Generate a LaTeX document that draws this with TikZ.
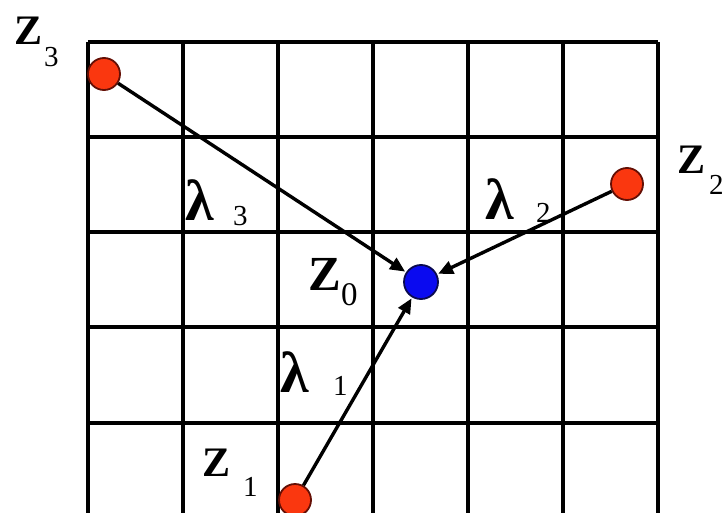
\documentclass[tikz,border=0pt]{standalone}
\usepackage{fontspec}
\setmainfont{Liberation Serif}
\usetikzlibrary{arrows.meta}
\definecolor{dotred}{RGB}{250,55,15}
\definecolor{dotblue}{RGB}{10,10,240}
\definecolor{rimred}{RGB}{100,15,5}
\definecolor{rimblue}{RGB}{10,10,80}
\tikzset{
  gridline/.style={line width=3.2pt, black},
  reddot/.style={circle, fill=dotred, draw=rimred, line width=1.8pt, minimum size=32pt, inner sep=0pt},
  bluedot/.style={circle, fill=dotblue, draw=rimblue, line width=1.8pt, minimum size=34pt, inner sep=0pt},
  link/.style={line width=3.4pt, -{Triangle[length=15pt,width=13pt]}, shorten >=1pt},
  big/.style={anchor=base west, inner sep=0pt, font=\fontsize{42}{42}\selectfont\bfseries},
  bigz/.style={anchor=base west, inner sep=0pt, font=\fontsize{49}{49}\selectfont\bfseries},
  lam/.style={anchor=base west, inner sep=0pt, font=\fontsize{58}{58}\selectfont\bfseries},
  sub/.style={anchor=base west, inner sep=0pt, font=\fontsize{29}{29}\selectfont},
  subz/.style={anchor=base west, inner sep=0pt, font=\fontsize{33}{33}\selectfont},
}
\begin{document}
\begin{tikzpicture}[x=1pt, y=-1pt]
\useasboundingbox (0,0) rectangle (727,513);
\fill[white] (0,0) rectangle (727,513);
\begin{scope}
\clip (0,0) rectangle (727,513);
% grid
\foreach \x in {88,183,278,373,468,563,658}
  \draw[gridline] (\x,42) -- (\x,520);
\foreach \y in {42,137,232,327,423}
  \draw[gridline] (88,\y) -- (658,\y);
% dots
\node[reddot] (z3) at (104,74) {};
\node[reddot] (z2) at (627,184) {};
\node[reddot] (z1) at (295,500) {};
\node[bluedot] (z0) at (421,282) {};
% arrows
\draw[link] (z3) -- (z0);
\draw[link] (z2) -- (z0);
\draw[link] (z1) -- (z0);
\end{scope}
% labels
\node[big] (lz3) at (14,45) {Z};
\node[sub] (lz3s) at (44,67) {3};
\node[big] (lz2) at (677,173) {Z};
\node[sub] (lz2s) at (709,194) {2};
\node[big] (lz1) at (202,476) {Z};
\node[sub] (lz1s) at (243,496) {1};
\node[bigz] (lz0) at (308,290) {Z};
\node[subz] (lz0s) at (341,305) {0};
\node[lam] (l3) at (185,220) {λ};
\node[sub] (l3s) at (233,225) {3};
\node[lam] (l2) at (485,219) {λ};
\node[sub] (l2s) at (536,222) {2};
\node[lam] (l1) at (280,392) {λ};
\node[sub] (l1s) at (333,395) {1};
\end{tikzpicture}
\end{document}
